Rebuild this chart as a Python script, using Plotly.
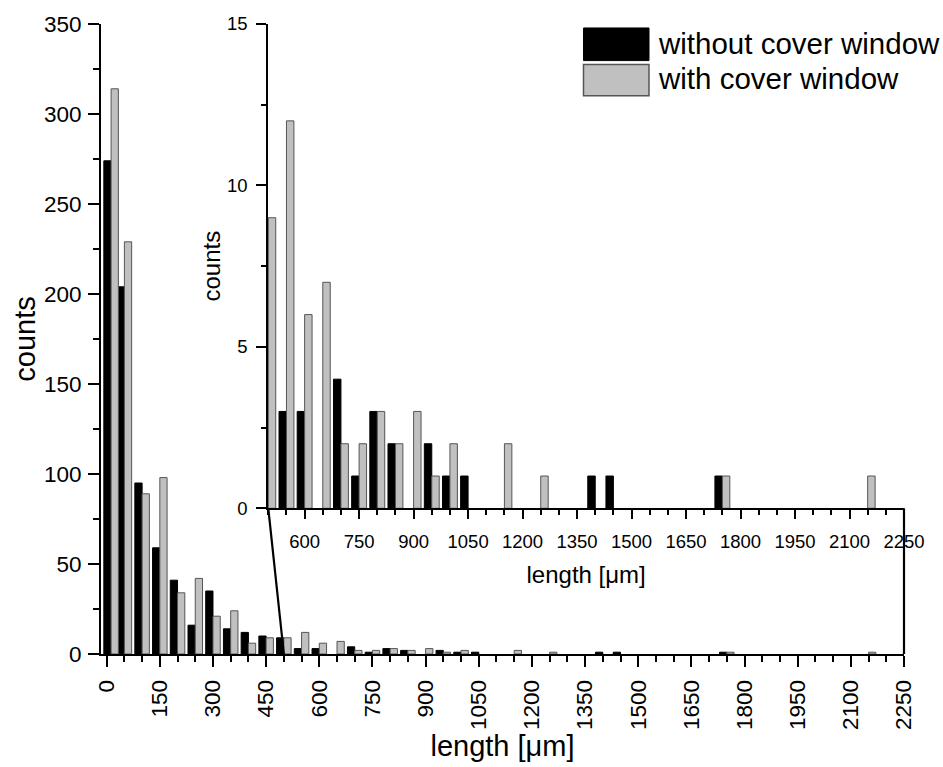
import plotly.graph_objects as go

# ---- data ----
bin_centers = [12.5, 50, 100, 150, 200, 250, 300, 350, 400, 450, 500, 550, 600, 650,
               700, 750, 800, 850, 900, 950, 1000, 1050, 1150, 1250, 1400, 1450, 1750, 2150]
without_cover = [274, 204, 95, 59, 41, 16, 35, 14, 12, 10, 9, 3, 3, 0,
                 4, 1, 3, 2, 0, 2, 1, 1, 0, 0, 1, 1, 1, 0]
with_cover = [314, 229, 89, 98, 34, 42, 21, 24, 6, 9, 9, 12, 6, 7,
              2, 2, 3, 2, 3, 1, 2, 0, 2, 1, 0, 0, 1, 1]
series_names = ["without cover window", "with cover window"]

# ---- geometry / style ----
W, H = 943, 767
ML, MR, MT, MB = 101, 39, 22, 108
PW, PH = W - ML - MR, H - MT - MB
MAIN_X = [-16, 2250]
MAIN_Y = [0, 350]
INSET_X = [500, 2250]
INSET_Y = [0, 15]
INSET_XDOM = [(268.3 - ML) / PW, 1.0]
INSET_YDOM = [(H - MB - 511.7) / PH, 1.0]
BW = 20.5
FONT = "Liberation Sans, Arial, sans-serif"
BLACK = "#000000"
GRAY = "#c0c0c0"
GRAY_EDGE = "#555555"


def nz(v):
    return [None if a == 0 else a for a in v]


def px_x(p):
    return (p - ML) / PW


def px_y(p):
    return (H - MB - p) / PH


fig = go.Figure()
for xa, ya in (("x", "y"), ("x2", "y2")):
    fig.add_trace(go.Bar(x=bin_centers, y=nz(without_cover), width=BW, offset=-BW,
                         marker=dict(color=BLACK, line=dict(color=BLACK, width=1)),
                         name=series_names[0], showlegend=False, xaxis=xa, yaxis=ya))
    fig.add_trace(go.Bar(x=bin_centers, y=nz(with_cover), width=BW, offset=0,
                         marker=dict(color=GRAY, line=dict(color=GRAY_EDGE, width=1)),
                         name=series_names[1], showlegend=False, xaxis=xa, yaxis=ya))

axis_common = dict(showline=True, linecolor="black", linewidth=2, showgrid=False,
                   zeroline=False, ticks="outside", tickcolor="black", tickwidth=2,
                   mirror=False)

fig.update_layout(
    width=W, height=H, margin=dict(l=ML, r=MR, t=MT, b=MB, pad=0),
    paper_bgcolor="white", plot_bgcolor="rgba(0,0,0,0)",
    barmode="overlay", font=dict(family=FONT, color="black"),
    xaxis=dict(domain=[0, 1], range=MAIN_X, tickmode="linear", tick0=0, dtick=150,
               tickangle=-90, ticklen=11, tickfont=dict(size=22.5),
               ticklabelstandoff=4,
               minor=dict(ticks="outside", dtick=50, tick0=0, ticklen=6, tickwidth=1.5,
                          tickcolor="black"),
               title=dict(text="length [μm]", font=dict(size=29), standoff=5),
               **axis_common),
    yaxis=dict(domain=[0, 1], range=MAIN_Y, tickmode="linear", tick0=0, dtick=50,
               ticklen=11, tickfont=dict(size=22.5), ticklabelstandoff=2,
               minor=dict(ticks="outside", dtick=25, tick0=0, ticklen=6, tickwidth=1.5,
                          tickcolor="black"),
               title=dict(text="counts", font=dict(size=29), standoff=0),
               **axis_common),
    xaxis2=dict(domain=INSET_XDOM, anchor="y2", range=INSET_X, tickmode="linear",
                tick0=0, dtick=150, ticklen=9, tickfont=dict(size=18.5),
                ticklabelstandoff=6,
                minor=dict(ticks="outside", dtick=50, tick0=0, ticklen=5, tickwidth=1.5,
                           tickcolor="black"),
                title=dict(text="length [μm]", font=dict(size=24), standoff=16),
                **axis_common),
    yaxis2=dict(domain=INSET_YDOM, anchor="x2", range=INSET_Y, tickmode="linear",
                tick0=0, dtick=5, ticklen=10, tickfont=dict(size=18.5),
                ticklabelstandoff=5,
                minor=dict(ticks="outside", dtick=2.5, tick0=0, ticklen=5, tickwidth=1.5,
                           tickcolor="black"),
                title=dict(text="counts", font=dict(size=24), standoff=0),
                **axis_common),
)


# connectors between inset range and main axis
def main_x_to_paper(v):
    return (v - MAIN_X[0]) / (MAIN_X[1] - MAIN_X[0])


def inset_x_to_paper(v):
    f = (v - INSET_X[0]) / (INSET_X[1] - INSET_X[0])
    return INSET_XDOM[0] + f * (INSET_XDOM[1] - INSET_XDOM[0])


shapes = []
for v in INSET_X:
    shapes.append(dict(type="line", xref="paper", yref="paper",
                       x0=inset_x_to_paper(v), y0=INSET_YDOM[0],
                       x1=main_x_to_paper(v), y1=0,
                       line=dict(color="black", width=2.2)))

# custom legend with large swatches
shapes.append(dict(type="rect", xref="paper", yref="paper",
                   x0=px_x(583.5), x1=px_x(649), y0=px_y(59), y1=px_y(26),
                   fillcolor=BLACK, line=dict(color=BLACK, width=1)))
shapes.append(dict(type="rect", xref="paper", yref="paper",
                   x0=px_x(583.5), x1=px_x(649), y0=px_y(94.5), y1=px_y(63),
                   fillcolor=GRAY, line=dict(color=GRAY_EDGE, width=1.5)))
annotations = [
    dict(text=series_names[0], xref="paper", yref="paper", x=px_x(656), y=px_y(42),
         xanchor="left", yanchor="middle", showarrow=False, font=dict(size=29.5)),
    dict(text=series_names[1], xref="paper", yref="paper", x=px_x(656), y=px_y(77),
         xanchor="left", yanchor="middle", showarrow=False, font=dict(size=29.5)),
]
fig.update_layout(shapes=shapes, annotations=annotations)

fig.write_html("out.html")
